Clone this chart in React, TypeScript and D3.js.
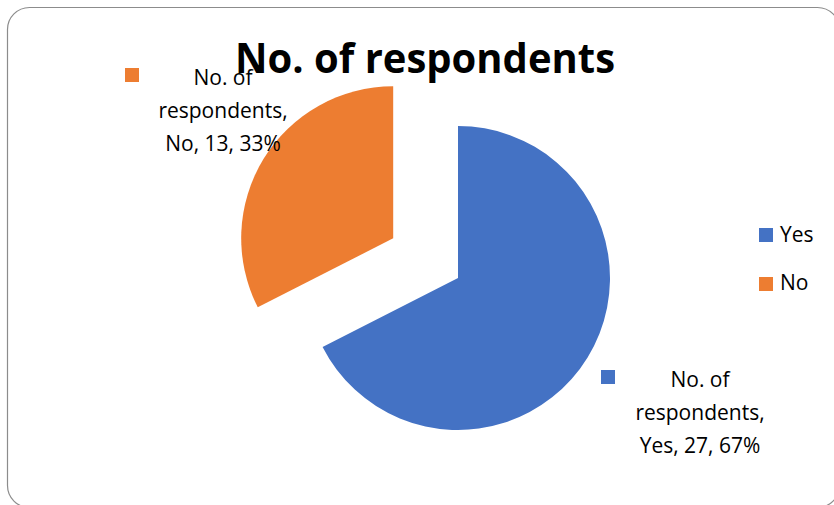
import React from "react";
import * as d3 from "d3";

const categories = ["Yes", "No"];
const values = [27, 13];
const percentLabels = ["67%", "33%"];
const seriesName = "No. of respondents";
const colors = ["#4472C4", "#ED7D31"];
const explode = [0, 76];

const W = 834;
const H = 505;
const cx = 458;
const cy = 278;
const R = 152;
const FONT = "'Open Sans', 'Liberation Sans', sans-serif";

export default function App() {
  const pie = d3
    .pie<number>()
    .sort(null)
    .value((d) => d)
    .startAngle(0)
    .endAngle(2 * Math.PI);
  const arcs = pie(values);
  const arc = d3.arc<d3.PieArcDatum<number>>().innerRadius(0).outerRadius(R);

  const labelInfo = [
    { x: 700, y: 387, mx: 601, my: 370 },
    { x: 223, y: 85, mx: 125, my: 68 },
  ];

  return (
    <svg
      width={W}
      height={H}
      style={{ position: "absolute", left: 0, top: 0, background: "#fff" }}
    >
      <rect x={0} y={0} width={W} height={H} fill="#fff" />
      <rect
        x={7.5}
        y={7.5}
        width={832}
        height={500}
        rx={22}
        ry={22}
        fill="#fff"
        stroke="#8c8c8c"
        strokeWidth={1.2}
      />
      <g transform={`translate(${cx},${cy})`}>
        {arcs.map((a, i) => {
          const mid = (a.startAngle + a.endAngle) / 2;
          const dx = Math.sin(mid) * explode[i];
          const dy = -Math.cos(mid) * explode[i];
          return (
            <path
              key={i}
              d={arc(a) || ""}
              fill={colors[i]}
              transform={`translate(${dx},${dy})`}
            />
          );
        })}
      </g>
      <text
        x={425}
        y={73}
        textAnchor="middle"
        fontFamily={FONT}
        fontWeight="bold"
        fontSize={41}
        textLength={380}
        lengthAdjust="spacingAndGlyphs"
        fill="#000"
      >
        {seriesName}
      </text>
      {arcs.map((a, i) => {
        const L = labelInfo[i];
        const lines = ["No. of", "respondents,", `${categories[i]}, ${values[i]}, ${percentLabels[i]}`];
        return (
          <g key={i}>
            <rect x={L.mx} y={L.my} width={14} height={14} fill={colors[i]} />
            {lines.map((t, j) => (
              <text
                key={j}
                x={L.x}
                y={L.y + j * 33}
                textAnchor="middle"
                fontFamily={FONT}
                fontSize={21}
                fill="#000"
              >
                {t}
              </text>
            ))}
          </g>
        );
      })}
      {categories.map((c, i) => (
        <g key={c}>
          <rect x={759} y={228 + i * 49} width={14} height={14} fill={colors[i]} />
          <text x={780} y={242 + i * 48} fontFamily={FONT} fontSize={21} fill="#000">
            {c}
          </text>
        </g>
      ))}
    </svg>
  );
}
